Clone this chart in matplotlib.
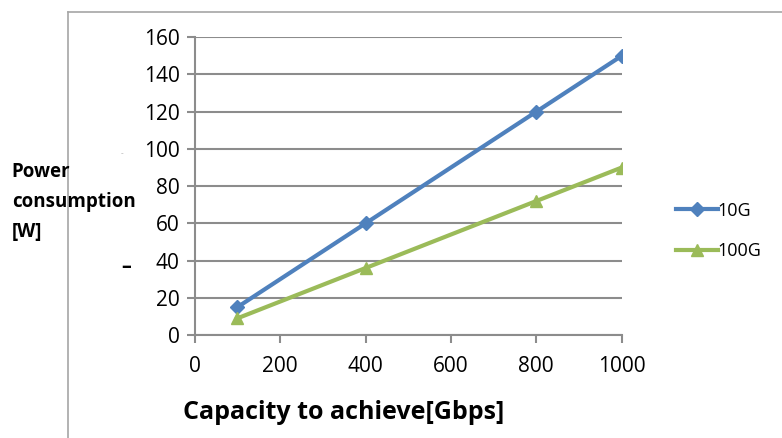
import matplotlib
matplotlib.use("Agg")
import matplotlib.pyplot as plt
from matplotlib.lines import Line2D

# data
capacity = [100, 400, 800, 1000]
power_10g = [15, 60, 120, 150]
power_100g = [9, 36, 72, 90]
series_names = ["10G", "100G"]

blue = "#4F81BD"
green = "#9BBB59"
grid = "#8C8C8C"

plt.rcParams["font.family"] = ["Open Sans", "DejaVu Sans"]

fig = plt.figure(figsize=(7.82, 4.38), dpi=100)
ax = fig.add_axes([0.249, 0.235, 0.546, 0.68])

ax.plot(capacity, power_10g, color=blue, lw=3, marker="D", ms=7, label=series_names[0])
ax.plot(capacity, power_100g, color=green, lw=3, marker="^", ms=9, label=series_names[1])

ax.set_xlim(0, 1000)
ax.set_ylim(0, 160)
ax.set_xticks(range(0, 1001, 200))
ax.set_yticks(range(0, 161, 20))
ax.yaxis.grid(True, color=grid, lw=1.5)
ax.set_axisbelow(True)
for side in ["top", "right"]:
    ax.spines[side].set_visible(False)
for side in ["left", "bottom"]:
    ax.spines[side].set_color(grid)
    ax.spines[side].set_linewidth(1.5)
ax.tick_params(colors=grid, width=1.5, length=6, labelsize=15, labelcolor="black")
ax.tick_params(axis="x", pad=9)
ax.tick_params(axis="y", pad=5)

ax.set_xlabel("Capacity to achieve[Gbps]", fontsize=18, fontweight="bold")
ax.xaxis.set_label_coords(0.349, -0.218)
fig.text(0.015, 0.539, "Power\nconsumption\n[W]", fontsize=13.5, fontweight="bold",
         ha="left", va="center", linespacing=1.65)
fig.text(0.161, 0.39, "–", fontsize=14, fontweight="bold", ha="center", va="center")
fig.text(0.156, 0.648, "-", fontsize=6, color="#A6A6A6", ha="center", va="center")

ax.legend(loc="center left", bbox_to_anchor=(1.09, 0.35), frameon=False,
          fontsize=13, handlelength=2.3, handletextpad=0.0, labelspacing=1.25)

# chart area border, partially cropped in the reference
fig.add_artist(Line2D([0.087, 0.087], [0.0, 0.973], transform=fig.transFigure, color="#A6A6A6", lw=1.2))
fig.add_artist(Line2D([0.087, 1.0], [0.973, 0.973], transform=fig.transFigure, color="#A6A6A6", lw=1.2))

fig.savefig("out.png", dpi=100)
